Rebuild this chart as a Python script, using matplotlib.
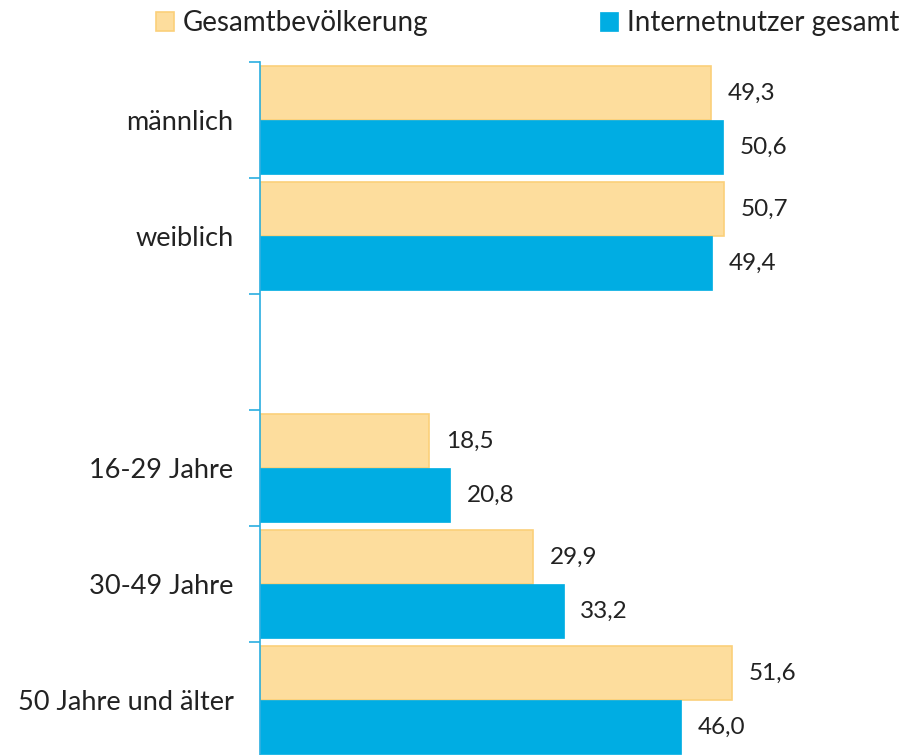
import matplotlib
matplotlib.use('Agg')
from matplotlib import pyplot as plt
import numpy as np

plt.rcParams['font.family'] = ['Lato', 'DejaVu Sans']

categories = ['männlich', 'weiblich', '', '16-29 Jahre', '30-49 Jahre', '50 Jahre und älter']
gesamt = [49.3, 50.7, None, 18.5, 29.9, 51.6]
internet = [50.6, 49.4, None, 20.8, 33.2, 46.0]
series_names = ['Gesamtbevölkerung', 'Internetnutzer gesamt']

yellow = '#FDDD9D'
yellow_edge = '#FBD07A'
blue = '#00ADE3'
tick_col = '#2AAEE0'
text_col = '#222222'

W, H = 904, 755
fig = plt.figure(figsize=(W / 100, H / 100), dpi=100)
# axes: x=0 at px 260, bands of 116 px starting at px 62
ax = fig.add_axes([260 / W, 1 - 758 / H, 640 / W, 696 / H])

h = 54 / 116
y = np.arange(len(categories))
for i in range(len(categories)):
    if gesamt[i] is None:
        continue
    ax.barh(y[i] - h / 2, gesamt[i], height=h, color=yellow, edgecolor=yellow_edge, linewidth=1.2,
            label=series_names[0] if i == 0 else None)
    ax.barh(y[i] + h / 2, internet[i], height=h, color=blue, edgecolor=blue, linewidth=0.5,
            label=series_names[1] if i == 0 else None)
    for v, yy in ((gesamt[i], y[i] - h / 2), (internet[i], y[i] + h / 2)):
        ax.annotate(f'{v:.1f}'.replace('.', ','), (v, yy), xytext=(12, 0), textcoords='offset points',
                    va='center', ha='left', fontsize=17.5, color=text_col)

ax.set_xlim(0, 70)
ax.set_ylim(len(categories) - 0.5, -0.5)
ax.set_yticks(np.arange(len(categories) + 1) - 0.5)
ax.set_yticklabels([])
ax.set_yticks(y, categories, minor=True)
ax.tick_params(axis='y', which='major', length=8, color=tick_col, width=1.2)
ax.tick_params(axis='y', which='minor', length=0, pad=19, labelsize=19.5, labelcolor=text_col)
ax.set_xticks([])
for s in ['top', 'right', 'bottom']:
    ax.spines[s].set_visible(False)
ax.spines['left'].set_color(tick_col)
ax.spines['left'].set_linewidth(1.2)

fig.legend(loc='upper right', bbox_to_anchor=(1.016, 1.012), ncol=2, frameon=False, fontsize=20,
           handlelength=0.65, handleheight=0.65, handletextpad=0.3, columnspacing=6.2,
           labelcolor=text_col, borderaxespad=0.3)

fig.savefig('out.png', dpi=100)
